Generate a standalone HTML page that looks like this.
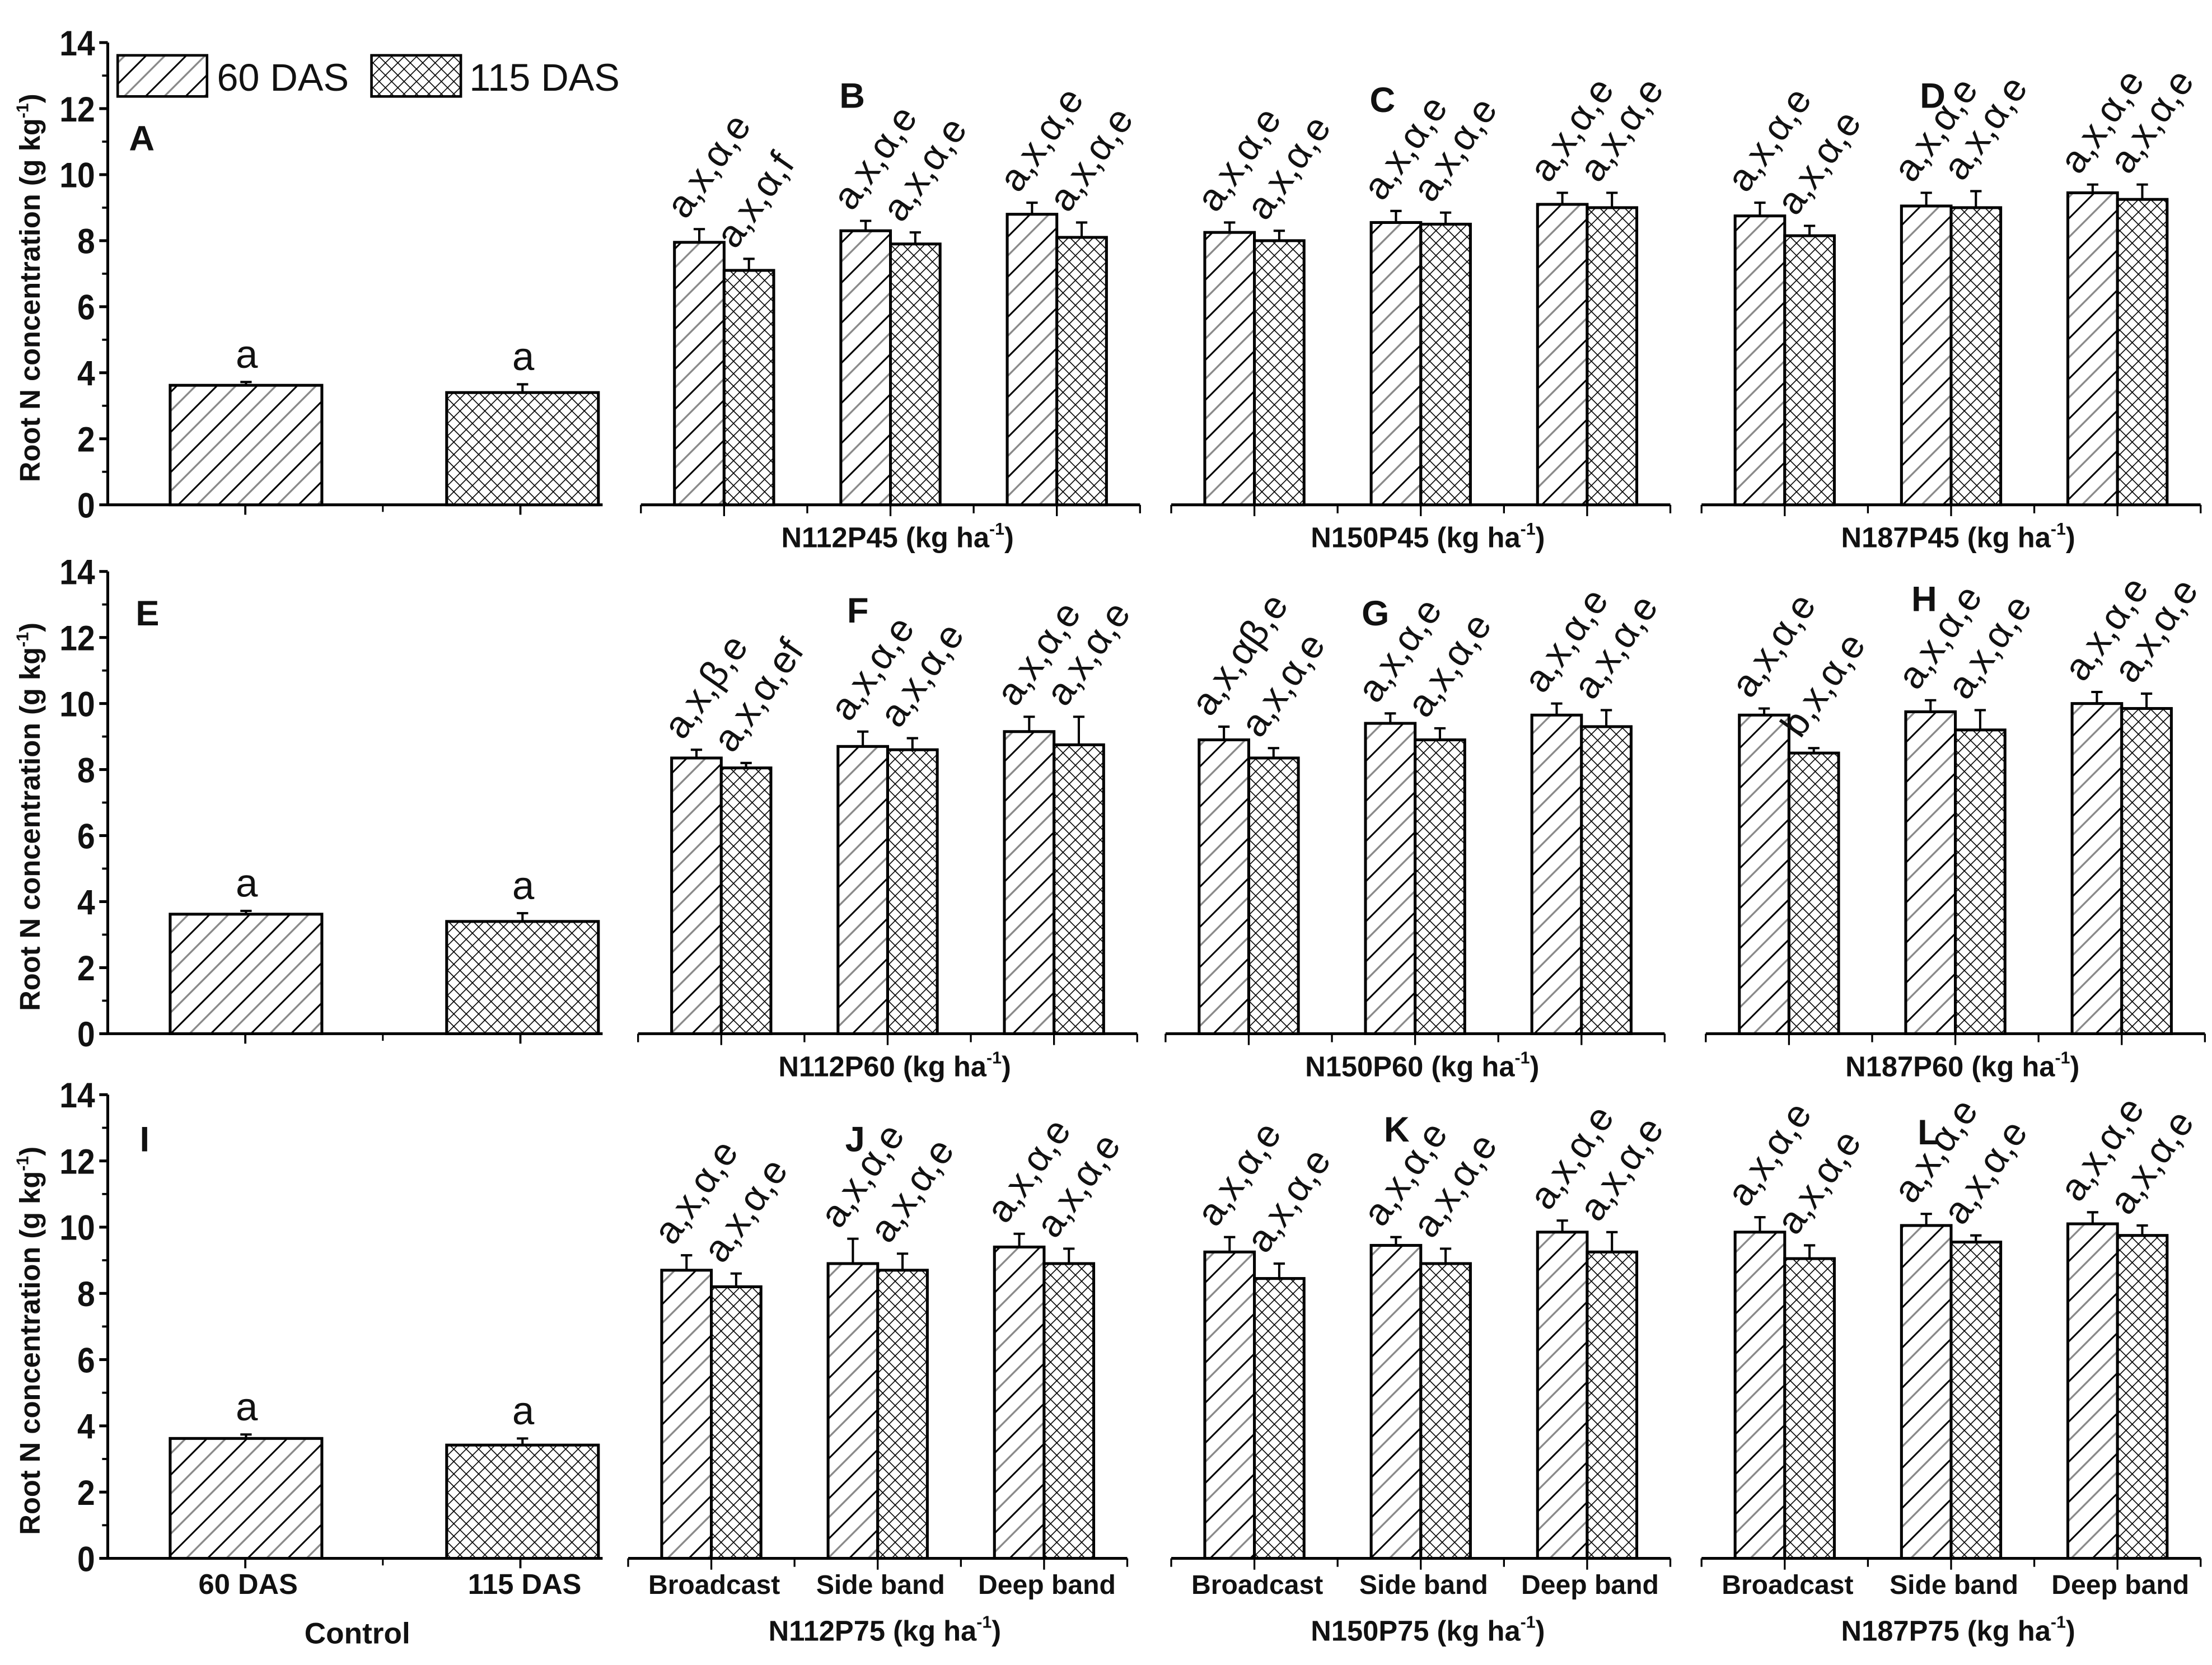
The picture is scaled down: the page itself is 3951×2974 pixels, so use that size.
<!DOCTYPE html>
<html><head><meta charset="utf-8"><style>
html,body{margin:0;padding:0;background:#fff}
svg{display:block}
text{font-family:"Liberation Sans",Arial,sans-serif;fill:#111}
</style></head><body>
<svg id="c" xmlns="http://www.w3.org/2000/svg" width="3951" height="2974" viewBox="0 0 1560 1174.2">
<defs>
<pattern id="diag" patternUnits="userSpaceOnUse" width="20" height="20" patternTransform="rotate(45)">
<rect width="20" height="20" fill="#fff"/>
<line x1="0" y1="0" x2="0" y2="20" stroke="#000" stroke-width="2.4"/>
<line x1="10" y1="0" x2="10" y2="20" stroke="#888" stroke-width="1.3"/>
</pattern>
<pattern id="cross" patternUnits="userSpaceOnUse" width="6.2" height="6.2" patternTransform="rotate(45)">
<rect width="6.2" height="6.2" fill="#fff"/>
<line x1="0" y1="0" x2="0" y2="6.2" stroke="#000" stroke-width="1.3"/>
<line x1="0" y1="0" x2="6.2" y2="0" stroke="#000" stroke-width="1.3"/>
</pattern>
</defs>
<g id="g"></g>
</svg>
<script>
// ---- data ----
const categories = ["Broadcast","Side band","Deep band"];
const controlLabels = ["60 DAS","115 DAS"];
const yTicks = [0,2,4,6,8,10,12,14];
const panelLetters = ["A","B","C","D","E","F","G","H","I","J","K","L"];
const panelTitles = ["N112P45","N150P45","N187P45","N112P60","N150P60","N187P60","N112P75","N150P75","N187P75"];
const controlVals = [[3.62,3.40],[3.62,3.40],[3.62,3.42]];
const controlErr = [[0.1,0.25],[0.1,0.25],[0.12,0.2]];
const das60 = [[7.95,8.3,8.8],[8.25,8.55,9.1],[8.75,9.05,9.45],
               [8.35,8.7,9.15],[8.9,9.4,9.65],[9.65,9.75,10.0],
               [8.7,8.9,9.4],[9.25,9.45,9.85],[9.85,10.05,10.1]];
const das115 = [[7.1,7.9,8.1],[8.0,8.5,9.0],[8.15,9.0,9.25],
                [8.05,8.6,8.75],[8.35,8.9,9.3],[8.5,9.2,9.85],
                [8.2,8.7,8.9],[8.45,8.9,9.25],[9.05,9.55,9.75]];
const err60 = [[0.4,0.3,0.35],[0.3,0.35,0.35],[0.4,0.4,0.25],
               [0.25,0.45,0.45],[0.4,0.3,0.35],[0.2,0.35,0.35],
               [0.45,0.75,0.4],[0.45,0.25,0.35],[0.45,0.35,0.35]];
const err115 = [[0.35,0.35,0.45],[0.3,0.35,0.45],[0.3,0.5,0.45],
                [0.15,0.35,0.85],[0.3,0.35,0.5],[0.15,0.6,0.45],
                [0.4,0.5,0.45],[0.45,0.45,0.6],[0.4,0.2,0.3]];
const sig60 = [["a,x,α,e","a,x,α,e","a,x,α,e"],["a,x,α,e","a,x,α,e","a,x,α,e"],["a,x,α,e","a,x,α,e","a,x,α,e"],
               ["a,x,β,e","a,x,α,e","a,x,α,e"],["a,x,αβ,e","a,x,α,e","a,x,α,e"],["a,x,α,e","a,x,α,e","a,x,α,e"],
               ["a,x,α,e","a,x,α,e","a,x,α,e"],["a,x,α,e","a,x,α,e","a,x,α,e"],["a,x,α,e","a,x,α,e","a,x,α,e"]];
const sig115 = [["a,x,α,f","a,x,α,e","a,x,α,e"],["a,x,α,e","a,x,α,e","a,x,α,e"],["a,x,α,e","a,x,α,e","a,x,α,e"],
                ["a,x,α,ef","a,x,α,e","a,x,α,e"],["a,x,α,e","a,x,α,e","a,x,α,e"],["b,x,α,e","a,x,α,e","a,x,α,e"],
                ["a,x,α,e","a,x,α,e","a,x,α,e"],["a,x,α,e","a,x,α,e","a,x,α,e"],["a,x,α,e","a,x,α,e","a,x,α,e"]];

// ---- layout ----
const rows = [{y0:356,y14:30},{y0:729,y14:403},{y0:1099,y14:772}];
const panelLeft = [[452,826,1200],[450,822,1203],[443,826,1200]];
const panelW = 352;
const letterPos = [[100,97],[601,67],[975,70],[1363,67],[104,432],[605,430],[970,432],[1357,422],[102,803],[603,803],[985,796],[1360,798]];
const NS="http://www.w3.org/2000/svg";
const g=document.getElementById('g');
function el(tag,attrs,parent,txt){const e=document.createElementNS(NS,tag);for(const k in attrs)e.setAttribute(k,attrs[k]);if(txt!==undefined)e.textContent=txt;(parent||g).appendChild(e);return e;}

function drawBar(parent,x,w,v,e,yf,y0,fill,name){
  const r=el('rect',{x:x,y:yf(v),width:w,height:y0-yf(v),fill:fill,stroke:'#000','stroke-width':2},parent);
  
  
  const cx=x+w/2, t=yf(v+e);
  const eb=el('path',{d:`M${cx},${yf(v)}V${t}M${cx-4},${t}H${cx+4}`,stroke:'#000','stroke-width':1.6,fill:'none'},parent);
  
  
  return t;
}

rows.forEach((R,ri)=>{
  const yf=v=>R.y0+(R.y14-R.y0)*v/14;
  const row=el('g',{});
  
  
  el('line',{x1:76,y1:R.y0,x2:76,y2:R.y14,stroke:'#000','stroke-width':2},row);
  yTicks.forEach(t=>{
    el('line',{x1:70,y1:yf(t),x2:76,y2:yf(t),stroke:'#000','stroke-width':2},row);
    if(t<14) el('line',{x1:72,y1:yf(t+1),x2:76,y2:yf(t+1),stroke:'#000','stroke-width':1.5},row);
    const tl=el('text',{x:67,y:yf(t)+9,'text-anchor':'end','font-size':25,'font-weight':'bold',transform:`translate(${67*0.1},0) scale(0.9,1)`},row,String(t));
    
    
  });
  const yc=(R.y0+R.y14)/2+10;
  const yt=el('text',{x:0,y:0,transform:`translate(28,${yc}) rotate(-90)`,'text-anchor':'middle','font-size':20,'font-weight':'bold'},row);
  
  
  yt.innerHTML='Root N concentration (g kg<tspan dy="-8" font-size="12">-1</tspan><tspan dy="8">)</tspan>';
  el('line',{x1:76,y1:R.y0,x2:425,y2:R.y0,stroke:'#000','stroke-width':2},row);
  [173,367].forEach(x=>el('line',{x1:x,y1:R.y0,x2:x,y2:R.y0+7,stroke:'#000','stroke-width':1.5},row));
  el('line',{x1:270,y1:R.y0,x2:270,y2:R.y0+5,stroke:'#000','stroke-width':1.2},row);
  [[120,'url(#diag)'],[315,'url(#cross)']].forEach((b,i)=>{
    const t=drawBar(row,b[0],107,controlVals[ri][i],controlErr[ri][i],yf,R.y0,b[1],'control-bar-'+controlLabels[i].replace(' ','-').toLowerCase());
    el('text',{x:b[0]+54,y:t-10,'text-anchor':'middle','font-size':28},row,'a');
  });
  if(ri===2){
    controlLabels.forEach((l,i)=>{const t=el('text',{x:[175,370][i],y:R.y0+25,'text-anchor':'middle','font-size':20,'font-weight':'bold'},row,l);
      });
    const ct=el('text',{x:252,y:R.y0+60,'text-anchor':'middle','font-size':21,'font-weight':'bold'},row,'Control');
    
  }
  for(let pi=0;pi<3;pi++){
    const k=ri*3+pi, L=panelLeft[ri][pi];
    const pg=el('g',{},row);
    
    
    el('line',{x1:L,y1:R.y0,x2:L+panelW,y2:R.y0,stroke:'#000','stroke-width':2},pg);
    for(let j=0;j<=6;j++){const x=L+panelW*j/6;el('line',{x1:x,y1:R.y0,x2:x,y2:R.y0+(j%2?8:6),stroke:'#000','stroke-width':1.3},pg);}
    categories.forEach((c,ci)=>{
      const cx=L+panelW*(2*ci+1)/6, bw=35;
      const t1=drawBar(pg,cx-bw,bw,das60[k][ci],err60[k][ci],yf,R.y0,'url(#diag)','bar-60das-'+ci);
      const t2=drawBar(pg,cx,bw,das115[k][ci],err115[k][ci],yf,R.y0,'url(#cross)','bar-115das-'+ci);
      [[cx-bw+8,t1,sig60[k][ci]],[cx+8,t2,sig115[k][ci]]].forEach(s=>{
        const tx=el('text',{transform:`translate(${s[0]},${s[1]-6}) rotate(-55)`,'font-size':27},pg,s[2]);
        
      });
      if(ri===2){const tl=el('text',{x:cx+2,y:R.y0+25,'text-anchor':'middle','font-size':19,'font-weight':'bold'},pg,c);
        }
    });
    const ty=ri===2?R.y0+58:R.y0+30;
    const at=el('text',{x:L+panelW/2+5,y:ty,'text-anchor':'middle','font-size':20,'font-weight':'bold'},pg);
    
    at.innerHTML=panelTitles[k]+' (kg ha<tspan dy="-9" font-size="12">-1</tspan><tspan dy="9">)</tspan>';
  }
});
panelLetters.forEach((l,i)=>{const t=el('text',{x:letterPos[i][0],y:letterPos[i][1]+9,'text-anchor':'middle','font-size':25,'font-weight':'bold'},g,l);
  });
const lg=el('g',{});


el('rect',{x:83,y:39,width:63,height:29,fill:'url(#diag)',stroke:'#000','stroke-width':1.8},lg);
el('text',{x:153,y:64,'font-size':27},lg,'60 DAS');
el('rect',{x:262,y:39,width:63,height:29,fill:'url(#cross)',stroke:'#000','stroke-width':1.8},lg);
el('text',{x:331,y:64,'font-size':27},lg,'115 DAS');
</script>
</body></html>
